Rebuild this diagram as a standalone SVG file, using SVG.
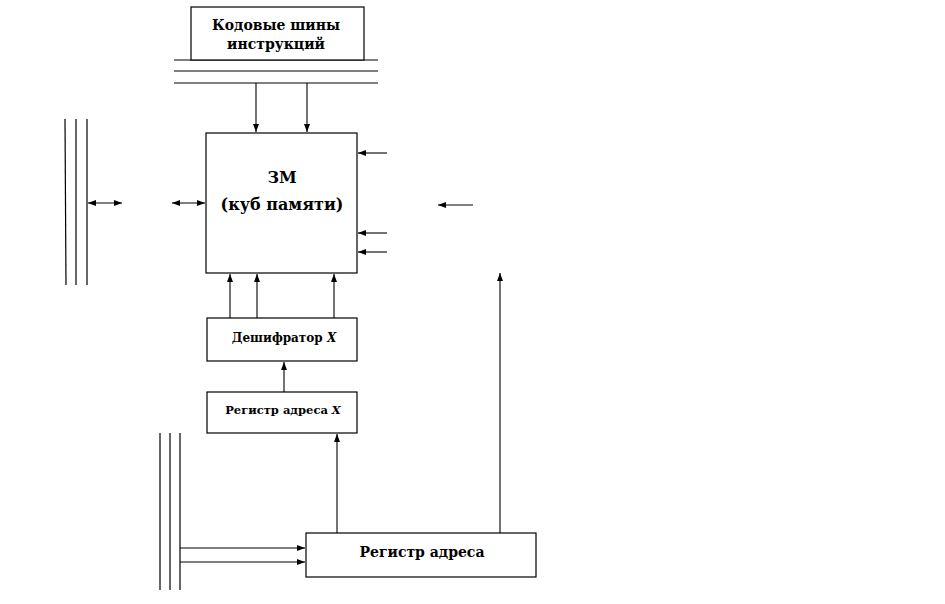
<svg xmlns="http://www.w3.org/2000/svg" width="945" height="604" viewBox="0 0 945 604">
<defs>
<marker id="ah" markerWidth="8" markerHeight="6" refX="8" refY="3" orient="auto" markerUnits="userSpaceOnUse">
<path d="M0,0 L8,3 L0,6 Z" fill="#000"/>
</marker>
<marker id="ahs" markerWidth="8" markerHeight="6" refX="0" refY="3" orient="auto" markerUnits="userSpaceOnUse">
<path d="M8,0 L0,3 L8,6 Z" fill="#000"/>
</marker>
</defs>
<style>
.box{fill:#fff;stroke:#000;stroke-width:1.2}
.t{font-family:"DejaVu Serif","Liberation Serif",serif;font-weight:bold;fill:#000;text-anchor:middle}
.ln{stroke:#000;stroke-width:1.2;fill:none}
.ar{stroke:#000;stroke-width:1.1;fill:none;marker-end:url(#ah)}
.dar{stroke:#000;stroke-width:1.1;fill:none;marker-end:url(#ah);marker-start:url(#ahs)}
</style>
<rect width="945" height="604" fill="#fff"/>
<g id="buses">
<line class="ln" x1="174" y1="60" x2="378" y2="60"/>
<line class="ln" x1="174" y1="71" x2="378" y2="71"/>
<line class="ln" x1="174" y1="83" x2="378" y2="83"/>
<line class="ln" x1="65" y1="119" x2="66" y2="285"/>
<line class="ln" x1="76" y1="119" x2="76" y2="285"/>
<line class="ln" x1="87" y1="119" x2="87" y2="285"/>
<line class="ln" x1="160" y1="433" x2="160" y2="590"/>
<line class="ln" x1="170" y1="433" x2="170" y2="590"/>
<line class="ln" x1="180" y1="433" x2="180" y2="590"/>
</g>
<g id="code-bus">
<rect class="box" x="191" y="7" width="173" height="53"/>
<text class="t" x="276" y="30" font-size="14">Кодовые шины</text>
<text class="t" x="276" y="49" font-size="14">инструкций</text>
</g>
<g id="memory">
<rect class="box" x="206" y="133" width="151" height="140"/>
<text class="t" x="282" y="183" font-size="16">ЗМ</text>
<text class="t" x="282" y="210" font-size="16">(куб памяти)</text>
</g>
<g id="decoder-x">
<rect class="box" x="207" y="318" width="150" height="43"/>
<text class="t" x="284" y="342" font-size="12">Дешифратор <tspan font-style="italic">X</tspan></text>
</g>
<g id="register-x">
<rect class="box" x="207" y="392" width="150" height="41"/>
<text class="t" x="283" y="414" font-size="11.5">Регистр адреса <tspan font-style="italic">X</tspan></text>
</g>
<g id="address-register">
<rect class="box" x="306" y="533" width="230" height="44"/>
<text class="t" x="422" y="557" font-size="14">Регистр адреса</text>
</g>
<g id="connectors">
<line class="ar" x1="256" y1="83" x2="256" y2="132"/>
<line class="ar" x1="307" y1="83" x2="307" y2="132"/>
<line class="dar" x1="88" y1="203" x2="122" y2="203"/>
<line class="dar" x1="172" y1="203" x2="205" y2="203"/>
<line class="ar" x1="387" y1="153" x2="358" y2="153"/>
<line class="ar" x1="387" y1="233" x2="358" y2="233"/>
<line class="ar" x1="387" y1="252" x2="358" y2="252"/>
<line class="ar" x1="473" y1="205" x2="438" y2="205"/>
<line class="ar" x1="230" y1="318" x2="230" y2="274"/>
<line class="ar" x1="257" y1="318" x2="257" y2="274"/>
<line class="ar" x1="334" y1="318" x2="334" y2="274"/>
<line class="ar" x1="284" y1="392" x2="284" y2="362"/>
<line class="ar" x1="337" y1="533" x2="337" y2="434"/>
<line class="ar" x1="500" y1="533" x2="500" y2="273"/>
<line class="ar" x1="180" y1="548" x2="305" y2="548"/>
<line class="ar" x1="180" y1="562" x2="305" y2="562"/>
</g>
</svg>
